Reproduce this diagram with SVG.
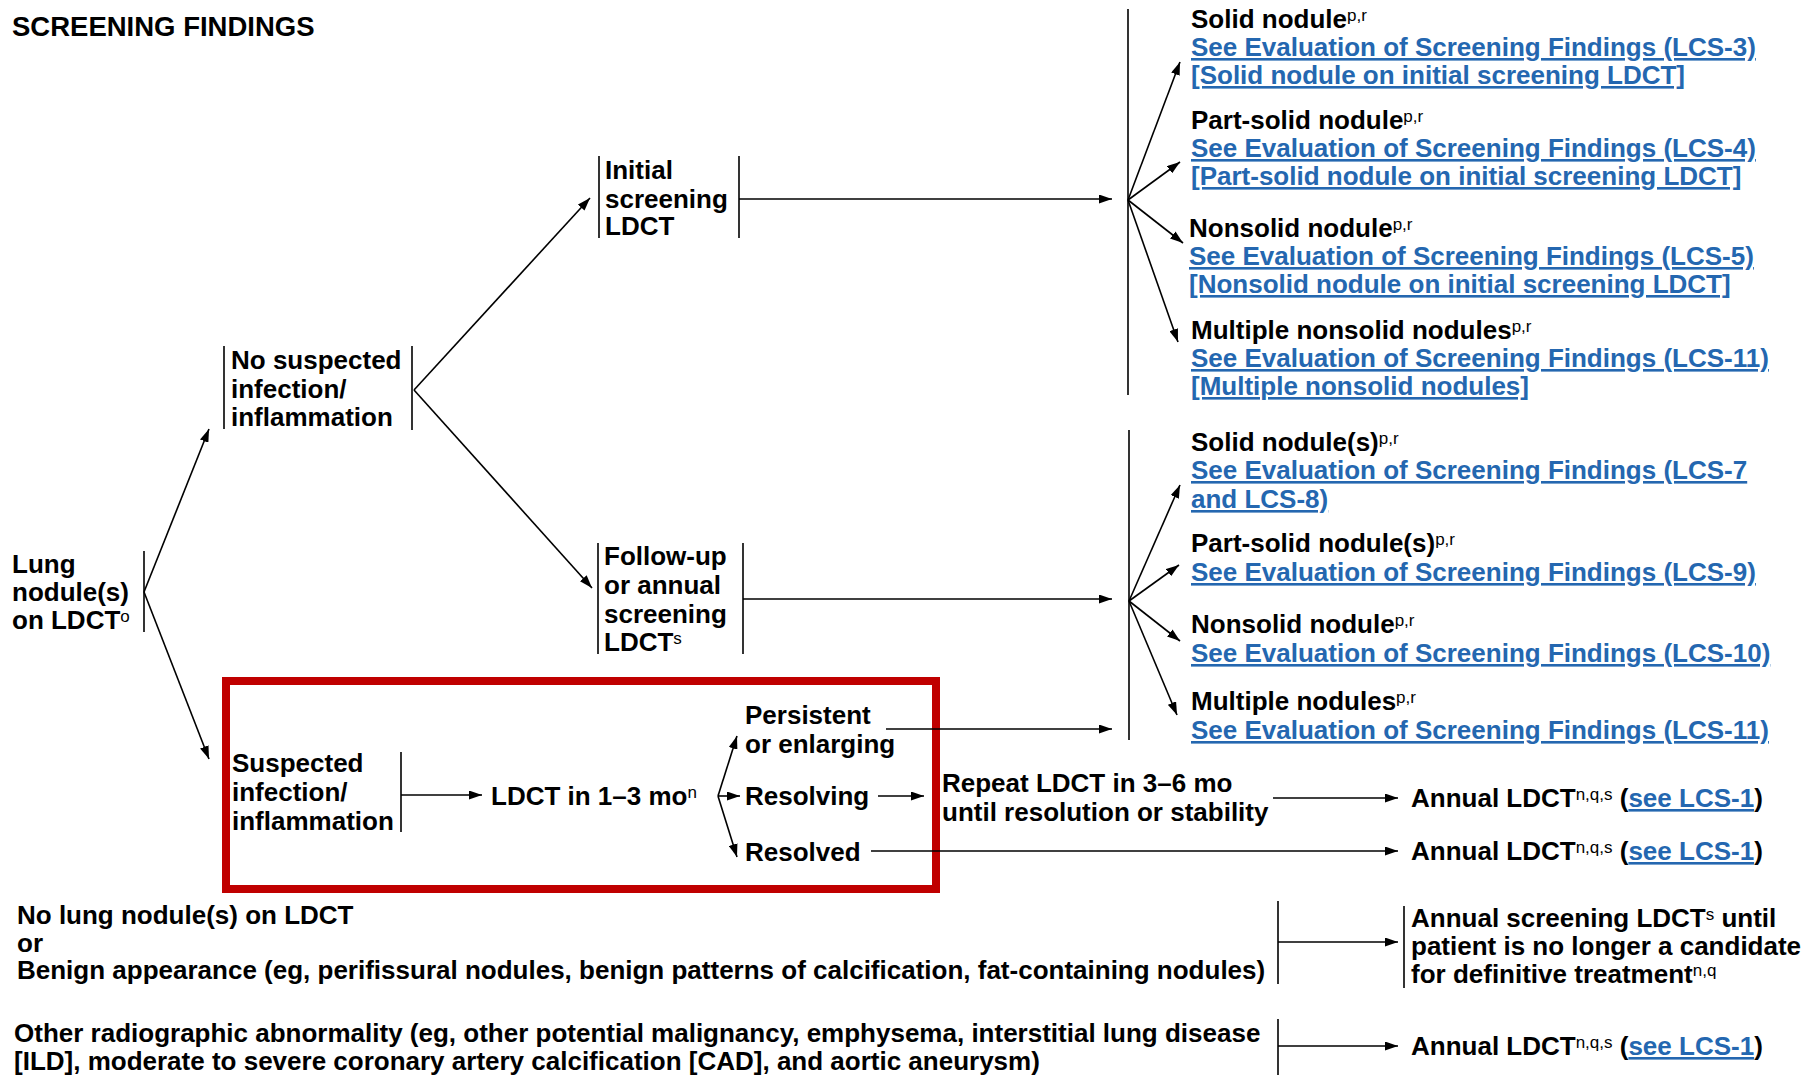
<svg xmlns="http://www.w3.org/2000/svg" width="1811" height="1075" viewBox="0 0 1811 1075">
<style>
.t{font-family:"Liberation Sans",Arial,sans-serif;font-weight:bold;font-size:26px;fill:#000}
.ttl{font-size:27.5px}
.lk{fill:#2467B0;text-decoration:underline}
.sup{font-size:17px;font-weight:normal}
.ln{stroke:#000;stroke-width:1.6;fill:none}
.ar{marker-end:url(#ah)}
</style>
<defs>
<marker id="ah" markerWidth="13" markerHeight="9" refX="13" refY="4.5" orient="auto" markerUnits="userSpaceOnUse"><path d="M0,0 L13,4.5 L0,9 z" fill="#000"/></marker>
</defs>
<rect width="1811" height="1075" fill="#fff"/>
<text class="t ttl" x="12" y="36">SCREENING FINDINGS</text>

<g id="highlight"><rect x="226" y="681" width="710" height="208" fill="none" stroke="#C00000" stroke-width="8"/></g>

<g id="lung">
<text class="t" x="12" y="573">Lung</text>
<text class="t" x="12" y="601">nodule(s)</text>
<text class="t" x="12" y="629">on LDCT<tspan class="sup" dy="-7">o</tspan></text>
<line class="ln" x1="144" y1="551" x2="144" y2="632"/>
</g>
<g id="nosusp">
<line class="ln" x1="224" y1="346" x2="224" y2="429"/>
<text class="t" x="231" y="369">No suspected</text>
<text class="t" x="231" y="398">infection/</text>
<text class="t" x="231" y="426">inflammation</text>
<line class="ln" x1="412" y1="346" x2="412" y2="430"/>
</g>
<g id="initial">
<line class="ln" x1="599" y1="156" x2="599" y2="238"/>
<text class="t" x="605" y="179">Initial</text>
<text class="t" x="605" y="208">screening</text>
<text class="t" x="605" y="235">LDCT</text>
<line class="ln" x1="739" y1="156" x2="739" y2="238"/>
</g>
<g id="followup">
<line class="ln" x1="598" y1="543" x2="598" y2="654"/>
<text class="t" x="604" y="565">Follow-up</text>
<text class="t" x="604" y="594">or annual</text>
<text class="t" x="604" y="623">screening</text>
<text class="t" x="604" y="651">LDCT<tspan class="sup" dy="-7">s</tspan></text>
<line class="ln" x1="743" y1="543" x2="743" y2="654"/>
</g>
<g id="suspected">
<text class="t" x="232" y="772">Suspected</text>
<text class="t" x="232" y="801">infection/</text>
<text class="t" x="232" y="830">inflammation</text>
<line class="ln" x1="401" y1="752" x2="401" y2="832"/>
</g>
<g id="ldct13"><text class="t" x="491" y="805">LDCT in 1–3 mo<tspan class="sup" dy="-7">n</tspan></text></g>
<g id="persistent">
<text class="t" x="745" y="724">Persistent</text>
<text class="t" x="745" y="753">or enlarging</text>
</g>
<g id="resolving"><text class="t" x="745" y="805">Resolving</text></g>
<g id="resolved"><text class="t" x="745" y="861">Resolved</text></g>
<g id="repeat">
<text class="t" x="942" y="792">Repeat LDCT in 3–6 mo</text>
<text class="t" x="942" y="821">until resolution or stability</text>
</g>
<g id="annual1"><text class="t" x="1411" y="807">Annual LDCT<tspan class="sup" dy="-7">n,q,s</tspan><tspan dy="7"> (</tspan><tspan class="lk">see LCS-1</tspan>)</text></g>
<g id="annual2"><text class="t" x="1411" y="860">Annual LDCT<tspan class="sup" dy="-7">n,q,s</tspan><tspan dy="7"> (</tspan><tspan class="lk">see LCS-1</tspan>)</text></g>

<g id="initial-findings">
<line class="ln" x1="1128" y1="9" x2="1128" y2="395"/>
<text class="t" x="1191" y="28">Solid nodule<tspan class="sup" dy="-7">p,r</tspan></text>
<text class="t lk" x="1191" y="56">See Evaluation of Screening Findings (LCS-3)</text>
<text class="t lk" x="1191" y="84">[Solid nodule on initial screening LDCT]</text>
<text class="t" x="1191" y="129">Part-solid nodule<tspan class="sup" dy="-7">p,r</tspan></text>
<text class="t lk" x="1191" y="157">See Evaluation of Screening Findings (LCS-4)</text>
<text class="t lk" x="1191" y="185">[Part-solid nodule on initial screening LDCT]</text>
<text class="t" x="1189" y="237">Nonsolid nodule<tspan class="sup" dy="-7">p,r</tspan></text>
<text class="t lk" x="1189" y="265">See Evaluation of Screening Findings (LCS-5)</text>
<text class="t lk" x="1189" y="293">[Nonsolid nodule on initial screening LDCT]</text>
<text class="t" x="1191" y="339">Multiple nonsolid nodules<tspan class="sup" dy="-7">p,r</tspan></text>
<text class="t lk" x="1191" y="367">See Evaluation of Screening Findings (LCS-11)</text>
<text class="t lk" x="1191" y="395">[Multiple nonsolid nodules]</text>
</g>
<g id="followup-findings">
<line class="ln" x1="1129" y1="430" x2="1129" y2="740"/>
<text class="t" x="1191" y="451">Solid nodule(s)<tspan class="sup" dy="-7">p,r</tspan></text>
<text class="t lk" x="1191" y="479">See Evaluation of Screening Findings (LCS-7</text>
<text class="t lk" x="1191" y="508">and LCS-8)</text>
<text class="t" x="1191" y="552">Part-solid nodule(s)<tspan class="sup" dy="-7">p,r</tspan></text>
<text class="t lk" x="1191" y="581">See Evaluation of Screening Findings (LCS-9)</text>
<text class="t" x="1191" y="633">Nonsolid nodule<tspan class="sup" dy="-7">p,r</tspan></text>
<text class="t lk" x="1191" y="662">See Evaluation of Screening Findings (LCS-10)</text>
<text class="t" x="1191" y="710">Multiple nodules<tspan class="sup" dy="-7">p,r</tspan></text>
<text class="t lk" x="1191" y="739">See Evaluation of Screening Findings (LCS-11)</text>
</g>

<g id="nonodule">
<text class="t" x="17" y="924">No lung nodule(s) on LDCT</text>
<text class="t" x="17" y="952">or</text>
<text class="t" x="17" y="979">Benign appearance (eg, perifissural nodules, benign patterns of calcification, fat-containing nodules)</text>
<line class="ln" x1="1278" y1="901" x2="1278" y2="984"/>
</g>
<g id="annualscreen">
<line class="ln" x1="1404" y1="906" x2="1404" y2="988"/>
<text class="t" x="1411" y="927">Annual screening LDCT<tspan class="sup" dy="-7">s</tspan><tspan dy="7"> until</tspan></text>
<text class="t" x="1411" y="955">patient is no longer a candidate</text>
<text class="t" x="1411" y="983">for definitive treatment<tspan class="sup" dy="-7">n,q</tspan></text>
</g>
<g id="other">
<text class="t" x="14" y="1042">Other radiographic abnormality (eg, other potential malignancy, emphysema, interstitial lung disease</text>
<text class="t" x="14" y="1070">[ILD], moderate to severe coronary artery calcification [CAD], and aortic aneurysm)</text>
<line class="ln" x1="1278" y1="1019" x2="1278" y2="1075"/>
</g>
<g id="annual3"><text class="t" x="1411" y="1055">Annual LDCT<tspan class="sup" dy="-7">n,q,s</tspan><tspan dy="7"> (</tspan><tspan class="lk">see LCS-1</tspan>)</text></g>

<g id="connectors">
<line class="ln ar" x1="144" y1="592" x2="209" y2="429"/>
<line class="ln ar" x1="144" y1="592" x2="209" y2="759"/>
<line class="ln ar" x1="414" y1="390" x2="590" y2="198"/>
<line class="ln ar" x1="414" y1="390" x2="592" y2="588"/>
<line class="ln ar" x1="739" y1="199" x2="1112" y2="199"/>
<line class="ln ar" x1="743" y1="599" x2="1112" y2="599"/>
<line class="ln ar" x1="1128" y1="200" x2="1180" y2="62"/>
<line class="ln ar" x1="1128" y1="200" x2="1180" y2="162"/>
<line class="ln ar" x1="1128" y1="200" x2="1183" y2="243"/>
<line class="ln ar" x1="1128" y1="200" x2="1178" y2="342"/>
<line class="ln ar" x1="1129" y1="601" x2="1180" y2="485"/>
<line class="ln ar" x1="1129" y1="601" x2="1179" y2="565"/>
<line class="ln ar" x1="1129" y1="601" x2="1180" y2="641"/>
<line class="ln ar" x1="1129" y1="601" x2="1177" y2="715"/>
<line class="ln ar" x1="401" y1="795" x2="482" y2="795"/>
<line class="ln ar" x1="718" y1="796" x2="737" y2="736"/>
<line class="ln ar" x1="718" y1="796" x2="740" y2="796"/>
<line class="ln ar" x1="718" y1="796" x2="737" y2="857"/>
<line class="ln ar" x1="886" y1="729" x2="1112" y2="729"/>
<line class="ln ar" x1="878" y1="796" x2="924" y2="796"/>
<line class="ln ar" x1="1273" y1="798" x2="1398" y2="798"/>
<line class="ln ar" x1="871" y1="851" x2="1398" y2="851"/>
<line class="ln ar" x1="1278" y1="942" x2="1398" y2="942"/>
<line class="ln ar" x1="1278" y1="1046" x2="1398" y2="1046"/>
</g>
</svg>
